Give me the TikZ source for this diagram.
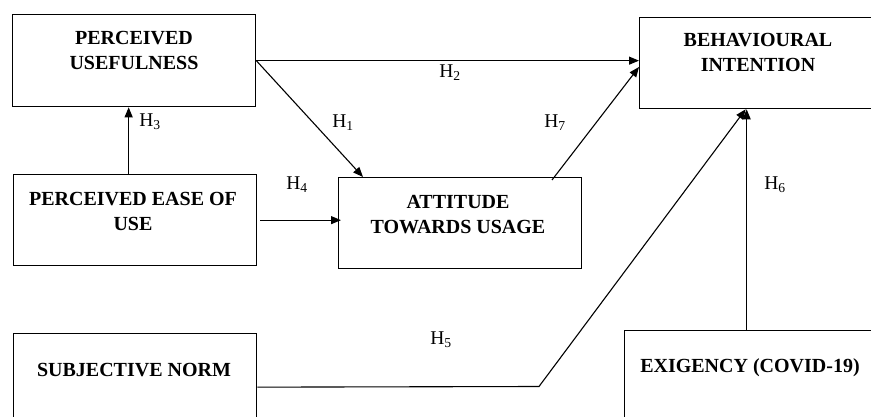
\documentclass[tikz,border=0pt]{standalone}
\usepackage{fontspec}
\setmainfont{Liberation Serif}
\usetikzlibrary{arrows.meta}

\begin{document}
\begin{tikzpicture}[x=1pt,y=-1pt,
  box/.style={draw, line width=1.3pt, inner sep=0pt, anchor=north west,
    minimum width=243pt, minimum height=91pt},
  title/.style={font=\bfseries\fontsize{20}{25}\selectfont, align=center, inner sep=0pt},
  hyp/.style={font=\fontsize{19.5}{22}\selectfont, inner sep=0pt},
  arr/.style={line width=1.1pt, -{Triangle[length=10pt,width=8pt]}},
  link/.style={line width=1.1pt}]
\useasboundingbox (0,0) rectangle (871,417);

% construct boxes
\node[box, minimum height=92pt] (pu) at (12,14) {};
\node[box, minimum width=270pt] (bi) at (639,17) {};
\node[box] (peou) at (13,174) {};
\node[box] (atu) at (338,177) {};
\node[box, minimum height=107pt] (sn) at (13,333) {};
\node[box, minimum width=280pt, minimum height=120pt] (ex) at (624,330) {};

% construct names
\node[title] (tpu) at (134,50) {PERCEIVED\\USEFULNESS};
\node[title] (tbi) at (758,52) {BEHAVIOURAL\\INTENTION};
\node[title] (tpeou) at (133,211) {PERCEIVED EASE OF\\USE};
\node[title] (tatu) at (458,215) {ATTITUDE\\TOWARDS USAGE};
\node[title] (tsn) at (134,370) {SUBJECTIVE NORM};
\node[title] (tex) at (750,368) {EXIGENCY (COVID-19)};

% hypothesised paths
\draw[arr] ([xshift=-6.5pt]peou.north) -- ([xshift=-6.5pt]peou.north |- pu.south);
\draw[arr] (pu.east) -- (pu.east -| bi.west);
\draw[arr] (pu.east) -- ([xshift=25pt]atu.north west);
\draw[arr] ([xshift=214pt,yshift=-3pt]atu.north west) -- ([yshift=-50pt]bi.north west);
\draw[arr] ([xshift=3pt]peou.east) -- ([xshift=3pt]peou.east -| atu.west);
\coordinate (k5) at (539,386.5);
\draw[arr] (sn.east) -- (k5) -- ([xshift=-29pt]bi.south);
\draw[arr] ([xshift=-18pt]ex.north) -- ([xshift=-18pt]ex.north |- bi.south);

% path labels
\node[hyp] (h1) at (343,123) {H\textsubscript{1}};
\node[hyp] (h2) at (450,73) {H\textsubscript{2}};
\node[hyp] (h3) at (150,122) {H\textsubscript{3}};
\node[hyp] (h4) at (297,185) {H\textsubscript{4}};
\node[hyp] (h5) at (441,340) {H\textsubscript{5}};
\node[hyp] (h6) at (775,185) {H\textsubscript{6}};
\node[hyp] (h7) at (555,123) {H\textsubscript{7}};
\end{tikzpicture}
\end{document}
